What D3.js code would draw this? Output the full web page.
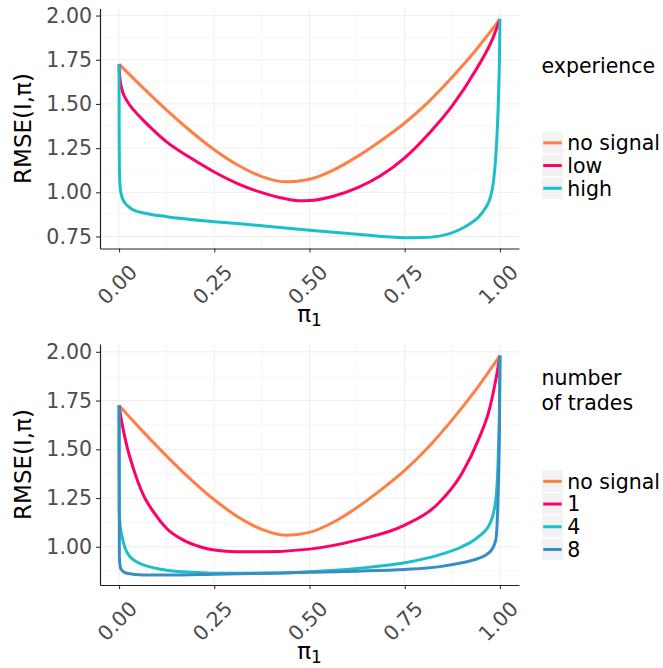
<!DOCTYPE html>
<html>
<head>
<meta charset="utf-8">
<script src="https://cdn.jsdelivr.net/npm/d3@7"></script>
<style>
  body { margin: 0; background: #fff; }
  svg { display: block; font-family: "DejaVu Sans", sans-serif; }
</style>
</head>
<body>
<div class="chart-container"></div>
<script>
// axis ticks
var piTicks = [0, 0.25, 0.5, 0.75, 1];
var topRmseTicks = [0.75, 1.00, 1.25, 1.50, 1.75, 2.00];
var bottomRmseTicks = [1.00, 1.25, 1.50, 1.75, 2.00];

// no signal (same curve in both panels)
var noSignalPi = [0, 0.0625, 0.125, 0.1875, 0.25, 0.3125, 0.375, 0.4375, 0.5, 0.5625, 0.625, 0.6875, 0.75, 0.8125, 0.875, 0.9375, 1];
var noSignalRmse = [1.725, 1.592, 1.465, 1.347, 1.241, 1.153, 1.089, 1.059, 1.074, 1.126, 1.202, 1.292, 1.392, 1.512, 1.652, 1.807, 1.98];

// experience: low
var lowPi = [0, 0.0005, 0.002, 0.005, 0.01, 0.02, 0.04, 0.0625, 0.09, 0.125, 0.1875, 0.25, 0.3125, 0.375, 0.4375, 0.475, 0.5, 0.5625, 0.625, 0.6875, 0.75, 0.8125, 0.875, 0.9375, 0.98, 1];
var lowRmse = [1.725, 1.69, 1.65, 1.605, 1.565, 1.52, 1.462, 1.41, 1.352, 1.285, 1.195, 1.115, 1.048, 0.998, 0.963, 0.952, 0.953, 0.978, 1.025, 1.095, 1.195, 1.33, 1.49, 1.695, 1.865, 1.98];

// experience: high
var highPi = [0, 0.0003, 0.001, 0.0025, 0.0045, 0.009, 0.016, 0.025, 0.038, 0.075, 0.125, 0.25, 0.375, 0.5, 0.625, 0.75, 0.80, 0.84, 0.87, 0.90, 0.925, 0.943, 0.96, 0.974, 0.983, 0.989, 0.9935, 0.9965, 0.999, 1];
var highRmse = [1.725, 1.30, 1.117, 1.04, 1.003, 0.965, 0.938, 0.919, 0.90, 0.879, 0.862, 0.834, 0.811, 0.785, 0.762, 0.743, 0.744, 0.752, 0.768, 0.795, 0.828, 0.858, 0.905, 0.966, 1.06, 1.20, 1.38, 1.56, 1.80, 1.98];

// number of trades: 1
var trades1Pi = [0, 0.007, 0.02, 0.0375, 0.064, 0.09, 0.125, 0.169, 0.2126, 0.25, 0.309, 0.37, 0.5, 0.625, 0.75, 0.838, 0.90, 0.943, 0.974, 0.989, 1];
var trades1Rmse = [1.725, 1.641, 1.521, 1.402, 1.265, 1.18, 1.094, 1.034, 1.00, 0.983, 0.974, 0.974, 0.988, 1.034, 1.111, 1.222, 1.376, 1.547, 1.718, 1.855, 1.98];

// number of trades: 4
var trades4Pi = [0, 0.0005, 0.0035, 0.007, 0.016, 0.029, 0.046, 0.081, 0.125, 0.195, 0.25, 0.37, 0.5, 0.625, 0.75, 0.838, 0.90, 0.943, 0.974, 0.989, 0.9955, 0.999, 1];
var trades4Rmse = [1.725, 1.18, 1.10, 1.06, 0.992, 0.949, 0.923, 0.897, 0.88, 0.869, 0.864, 0.864, 0.872, 0.889, 0.918, 0.957, 1.0, 1.051, 1.12, 1.24, 1.46, 1.75, 1.98];

// number of trades: 8
var trades8Pi = [0, 0.0008, 0.002, 0.005, 0.02, 0.064, 0.125, 0.25, 0.37, 0.5, 0.625, 0.75, 0.838, 0.90, 0.943, 0.974, 0.989, 0.9955, 0.999, 1];
var trades8Rmse = [1.725, 0.95, 0.915, 0.886, 0.864, 0.855, 0.855, 0.859, 0.864, 0.869, 0.875, 0.884, 0.897, 0.918, 0.94, 0.974, 1.034, 1.29, 1.70, 1.98];

var experienceLabels = ['no signal', 'low', 'high'];
var tradesLabels = ['no signal', '1', '4', '8'];

var colors = ['#FF7F45', '#FF0066', '#1BBFC8', '#3A8DC3'];

var svg;

function zipSeries(pi, rmse) {
  return pi.map(function (p, i) {
    return { pi: p, rmse: rmse[i] };
  });
}

// midpoints between major ticks (ggplot style minor grid)
function minorTicks(ticks, domain) {
  var step = ticks[1] - ticks[0];
  var out = [];
  if (ticks[0] - step / 2 >= domain[0]) out.push(ticks[0] - step / 2);
  ticks.forEach(function (t) {
    if (t + step / 2 <= domain[1]) out.push(t + step / 2);
  });
  return out;
}

function drawPanel(p) {
  var x = d3.scaleLinear().domain([-0.05, 1.05]).range([100, 519]);
  var y = d3.scaleLinear().domain(p.yDomain).range([p.bottom, p.top]);
  var g = svg.append('g');

  // grid
  var grid = g.append('g');
  grid.selectAll('.minor-x')
    .data(minorTicks(piTicks, x.domain()))
    .enter().append('line')
      .attr('x1', function (d) { return x(d); })
      .attr('x2', function (d) { return x(d); })
      .attr('y1', p.top).attr('y2', p.bottom)
      .attr('stroke', '#F6F6F6');
  grid.selectAll('.minor-y')
    .data(minorTicks(p.yTicks, y.domain()))
    .enter().append('line')
      .attr('y1', function (d) { return y(d); })
      .attr('y2', function (d) { return y(d); })
      .attr('x1', 100).attr('x2', 519)
      .attr('stroke', '#F6F6F6');
  grid.selectAll('.major-x')
    .data(piTicks)
    .enter().append('line')
      .attr('x1', function (d) { return x(d); })
      .attr('x2', function (d) { return x(d); })
      .attr('y1', p.top).attr('y2', p.bottom)
      .attr('stroke', '#EEEEEE');
  grid.selectAll('.major-y')
    .data(p.yTicks)
    .enter().append('line')
      .attr('y1', function (d) { return y(d); })
      .attr('y2', function (d) { return y(d); })
      .attr('x1', 100).attr('x2', 519)
      .attr('stroke', '#EEEEEE');

  // curves
  var line = d3.line()
    .x(function (d) { return x(d.pi); })
    .y(function (d) { return y(d.rmse); })
    .curve(d3.curveMonotoneX);

  g.selectAll('.curve')
    .data(p.series)
    .enter().append('path')
      .attr('class', 'curve')
      .attr('d', line)
      .attr('fill', 'none')
      .attr('stroke', function (d, i) { return colors[i]; })
      .attr('stroke-width', 3)
      .attr('stroke-linejoin', 'round');

  // y axis
  var yAxis = g.append('g')
    .attr('transform', 'translate(100,0)')
    .call(d3.axisLeft(y).tickValues(p.yTicks).tickFormat(d3.format('.2f'))
      .tickSize(4).tickSizeOuter(0).tickPadding(4));

  // x axis
  var xAxis = g.append('g')
    .attr('transform', 'translate(0,' + p.bottom + ')')
    .call(d3.axisBottom(x).tickValues(piTicks).tickFormat(d3.format('.2f'))
      .tickSize(4).tickSizeOuter(0));

  [yAxis, xAxis].forEach(function (a) {
    a.attr('font-family', null).attr('font-size', null);
    a.select('.domain').attr('stroke', '#222').attr('stroke-width', 1.2);
    a.selectAll('.tick line').attr('stroke', '#333').attr('stroke-width', 1.1);
    a.selectAll('text').attr('fill', '#4D4D4D').attr('font-size', 20.5);
  });

  xAxis.selectAll('text')
    .attr('y', 0)
    .attr('dy', 0)
    .attr('text-anchor', 'end')
    .attr('transform', 'translate(19,25) rotate(-45)');

  // axis titles
  var xt = g.append('text')
    .attr('x', (100 + 519) / 2)
    .attr('y', p.bottom + 73.5)
    .attr('text-anchor', 'middle')
    .attr('font-size', 23)
    .attr('fill', '#000');
  xt.append('tspan').text('π');
  xt.append('tspan').attr('font-size', 17).attr('dy', 4).text('1');

  g.append('text')
    .attr('transform', 'translate(31,' + ((p.top + p.bottom) / 2) + ') rotate(-90)')
    .attr('text-anchor', 'middle')
    .attr('font-size', 23)
    .attr('fill', '#000')
    .text('RMSE(I,π)');

  // legend
  var lg = g.append('g');
  lg.selectAll('.legend-title')
    .data(p.legendTitle)
    .enter().append('text')
      .attr('x', 541.5)
      .attr('y', function (d, i) { return p.titleY + i * 25; })
      .attr('font-size', 20.5)
      .attr('fill', '#000')
      .text(function (d) { return d; });

  var keyH = 22.7;
  var keys = lg.selectAll('.key')
    .data(p.labels)
    .enter().append('g')
      .attr('transform', function (d, i) { return 'translate(541.7,' + (p.keysY + i * keyH) + ')'; });

  keys.append('rect')
    .attr('width', 21.6)
    .attr('height', keyH)
    .attr('fill', '#F2F2F2')
    .attr('stroke', '#fff')
    .attr('stroke-width', 1);

  keys.append('line')
    .attr('x1', 1.5).attr('x2', 20)
    .attr('y1', keyH / 2).attr('y2', keyH / 2)
    .attr('stroke', function (d, i) { return colors[i]; })
    .attr('stroke-width', 3);

  keys.append('text')
    .attr('x', 25.6)
    .attr('y', keyH / 2)
    .attr('dy', '0.36em')
    .attr('font-size', 20.5)
    .attr('fill', '#000')
    .text(function (d) { return d; });
}

function initializeChart() {
  svg = d3.select('.chart-container').append('svg')
    .attr('width', 663)
    .attr('height', 668);

  var panels = [
    {
      top: 8.5, bottom: 248.5, yDomain: [0.682, 2.04], yTicks: topRmseTicks,
      legendTitle: ['experience'], titleY: 73.3, keysY: 131.5, labels: experienceLabels,
      series: [zipSeries(noSignalPi, noSignalRmse), zipSeries(lowPi, lowRmse), zipSeries(highPi, highRmse)]
    },
    {
      top: 344, bottom: 585, yDomain: [0.804, 2.04], yTicks: bottomRmseTicks,
      legendTitle: ['number', 'of trades'], titleY: 385, keysY: 470, labels: tradesLabels,
      series: [zipSeries(noSignalPi, noSignalRmse), zipSeries(trades1Pi, trades1Rmse),
        zipSeries(trades4Pi, trades4Rmse), zipSeries(trades8Pi, trades8Rmse)]
    }
  ];

  panels.forEach(drawPanel);
}

initializeChart();
</script>
</body>
</html>
